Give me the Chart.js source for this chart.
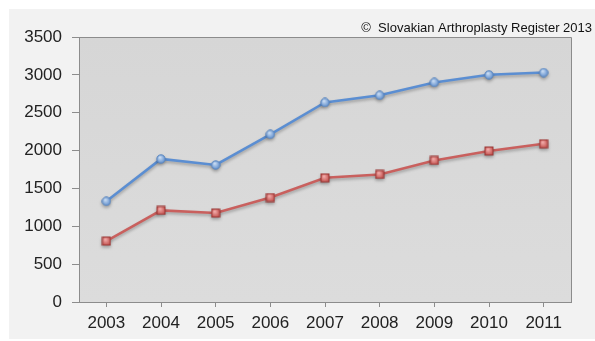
<!DOCTYPE html>
<html>
<head>
<meta charset="utf-8">
<script src="https://cdn.jsdelivr.net/npm/chart.js@4"></script>
<style>
  html, body { margin: 0; padding: 0; background: #fff; }
  #wrap { width: 595px; height: 341px; }
</style>
</head>
<body>
<div id="wrap"><canvas id="reg" width="595" height="341"></canvas></div>
<script>
  const years = ['2003', '2004', '2005', '2006', '2007', '2008', '2009', '2010', '2011'];
  const blueSeries = [1330, 1890, 1810, 2215, 2635, 2730, 2900, 3000, 3030];
  const redSeries = [805, 1210, 1175, 1380, 1640, 1685, 1870, 1995, 2090];
  const yTicks = [0, 500, 1000, 1500, 2000, 2500, 3000, 3500];
  const copyright = '\u00A9  Slovakian Arthroplasty Register 2013';

  // small gradient marker images
  function marker(kind, light, dark, edge) {
    const c = document.createElement('canvas');
    c.width = 10; c.height = 10;
    const g = c.getContext('2d');
    const grad = g.createRadialGradient(4, 3.5, 0.5, 5, 5, 5.5);
    grad.addColorStop(0, light);
    grad.addColorStop(1, dark);
    g.fillStyle = grad;
    g.strokeStyle = edge;
    g.lineWidth = 1;
    if (kind == 'circle') {
      g.beginPath();
      g.arc(5, 5, 4.2, 0, Math.PI * 2);
      g.fill();
      g.stroke();
    } else {
      g.fillRect(1, 1, 8, 8);
      g.strokeRect(1, 1, 8, 8);
    }
    return c;
  }

  const bgPlugin = {
    id: 'bg',
    beforeDraw(chart) {
      const { ctx, chartArea: a } = chart;
      ctx.save();
      ctx.fillStyle = '#f2f2f2';
      ctx.fillRect(9, 9, 595 - 9, 339 - 9);
      const grad = ctx.createLinearGradient(a.left, a.top, a.left, a.bottom);
      grad.addColorStop(0, '#d6d6d6');
      grad.addColorStop(1, '#dcdcdc');
      ctx.fillStyle = grad;
      ctx.fillRect(a.left, a.top, a.right - a.left, a.bottom - a.top);
      ctx.strokeStyle = '#8c8c8c';
      ctx.lineWidth = 1;
      ctx.beginPath();
      ctx.moveTo(a.left, a.top + 0.5);
      ctx.lineTo(a.right + 0.5, a.top + 0.5);
      ctx.lineTo(a.right + 0.5, a.bottom);
      ctx.stroke();
      ctx.fillStyle = '#111';
      ctx.font = '13px "Liberation Sans", Arial, sans-serif';
      ctx.textAlign = 'right';
      ctx.textBaseline = 'middle';
      ctx.fillText(copyright, 592, 28);
      ctx.restore();
    },
    beforeDatasetsDraw(chart) {
      const ctx = chart.ctx;
      ctx.save();
      ctx.shadowColor = 'rgba(0,0,0,0.28)';
      ctx.shadowBlur = 3;
      ctx.shadowOffsetY = 2;
    },
    afterDatasetsDraw(chart) {
      chart.ctx.restore();
    }
  };

  const tickFont = { family: '"Liberation Sans", Arial, sans-serif', size: 17 };

  new Chart(document.getElementById('reg').getContext('2d'), {
    type: 'line',
    data: {
      labels: years,
      datasets: [{
        data: blueSeries,
        borderColor: '#5b8ed2',
        borderWidth: 2.5,
        pointStyle: marker('circle', '#c6daf2', '#4a7ec4', '#5d88bf'),
        pointRadius: 5,
        tension: 0
      }, {
        data: redSeries,
        borderColor: '#c9605e',
        borderWidth: 2.5,
        pointStyle: marker('rect', '#f0a8a6', '#b8403d', '#9c3a38'),
        pointRadius: 5,
        tension: 0
      }]
    },
    options: {
      responsive: false,
      animation: false,
      events: [],
      layout: { padding: { top: 37, right: 24, left: 0, bottom: 0 } },
      plugins: { legend: { display: false }, tooltip: { enabled: false } },
      scales: {
        x: {
          offset: true,
          grid: { drawOnChartArea: false, offset: false, tickLength: 5, color: '#8c8c8c' },
          border: { color: '#8c8c8c' },
          ticks: { color: '#222', font: tickFont, padding: 6, maxRotation: 0 },
          afterFit(s) { s.height = 39; }
        },
        y: {
          min: 0,
          max: 3500,
          afterBuildTicks(s) { s.ticks = yTicks.map(v => ({ value: v })); },
          grid: { drawOnChartArea: false, tickLength: 7, color: '#8c8c8c' },
          border: { color: '#8c8c8c' },
          ticks: { color: '#222', font: tickFont, padding: 10, callback: v => String(v) },
          afterFit(s) { s.width = 79; }
        }
      }
    },
    plugins: [bgPlugin]
  });
</script>
</body>
</html>
